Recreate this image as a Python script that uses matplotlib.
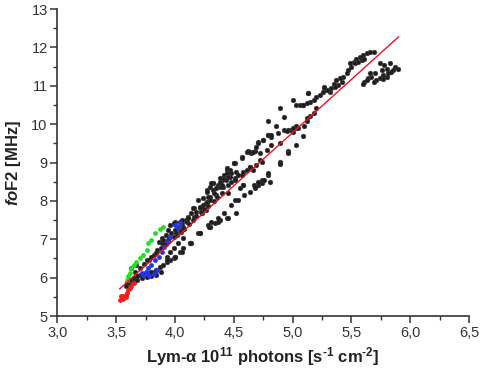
import matplotlib
matplotlib.use("Agg")
import matplotlib.pyplot as plt
from matplotlib.ticker import FixedLocator, FixedFormatter, MultipleLocator

plt.rcParams['font.family'] = ['Liberation Sans', 'DejaVu Sans']
plt.rcParams['mathtext.fontset'] = 'custom'
plt.rcParams['mathtext.rm'] = 'Liberation Sans:bold'
plt.rcParams['mathtext.it'] = 'Liberation Sans:italic:bold'
plt.rcParams['mathtext.default'] = 'rm'

# ---- data ----
black_x = [5.63, 5.66, 5.69, 5.60, 5.57, 5.54, 5.52, 5.53, 5.56, 5.59, 5.61, 5.49, 5.50, 5.47, 5.46,
           5.43, 5.40, 5.37, 5.35, 5.42, 5.39, 5.36, 5.33, 5.32, 5.29, 5.27, 5.26, 5.23, 5.20, 5.18,
           5.15, 5.12, 5.09, 5.13, 5.27,
           5.74, 5.78, 5.83, 5.87, 5.90, 5.85, 5.81, 5.77, 5.74, 5.71, 5.69, 5.67, 5.66, 5.64, 5.61,
           5.60, 5.63, 5.70, 5.76, 5.80, 5.84, 5.80, 5.77,
           5.20, 5.18, 5.15,
           5.13, 5.00, 5.03, 5.06, 5.09, 4.89, 4.93, 4.79, 4.86, 4.93, 4.99, 5.03, 5.12, 5.10, 5.09,
           4.79, 4.82, 4.75, 4.71, 4.69, 4.68, 4.65, 4.62, 4.88, 4.89, 4.82, 4.78, 4.72, 4.96, 4.89,
           4.57, 4.50, 4.64, 4.66, 4.61, 4.57, 4.51, 4.47, 4.44, 4.42, 4.40, 4.37, 4.32, 4.30, 4.27,
           4.79, 4.74, 4.71, 4.67, 4.58, 4.55, 4.48, 4.52,
           5.03, 5.00, 4.96, 5.03, 4.96, 4.89, 4.79, 4.74, 4.71, 4.68, 4.64, 4.59, 4.54, 4.48, 4.44,
           4.38, 4.34, 4.30, 4.58, 4.51, 4.57, 4.61, 4.64, 4.66, 4.71, 4.75, 4.79, 4.82, 4.72, 4.74,
           4.69, 4.64, 4.58, 4.54, 4.51, 4.47, 4.44, 4.41, 4.38, 4.32, 4.32, 4.27, 4.24, 4.30, 4.35,
           4.38, 4.41, 4.45, 4.21, 4.27,
           4.50, 4.44, 4.48, 4.45, 4.43, 4.38, 4.31, 4.40, 4.35, 4.33, 4.28, 4.30, 4.27, 4.26, 4.24,
           4.21, 4.20, 4.16, 4.18, 4.14, 4.11, 4.09, 4.06, 4.03, 4.00, 3.97, 4.10, 4.07, 4.45, 4.51,
           4.42, 4.37, 4.31, 4.28, 4.20, 4.13, 4.06, 4.00, 3.96, 3.94, 3.92, 3.89, 3.86, 3.90, 3.94,
           3.99, 4.01, 4.04, 4.16, 4.23, 4.26, 4.07, 4.03, 3.99, 3.96, 3.93, 3.99,
           3.79, 3.82, 3.84, 3.87, 3.90, 3.93, 3.96, 4.00, 4.04, 4.07, 4.13, 4.21, 4.30,
           3.93, 4.00, 4.06, 4.14, 4.21, 4.29, 4.37, 4.45, 4.52,
           3.63, 3.67, 3.76, 3.82, 3.85, 3.89, 3.90, 3.95, 3.99, 4.04, 4.11, 4.15,
           3.59, 3.62, 3.70, 3.78, 3.80, 3.83, 3.58, 3.65, 3.73, 3.68,
           4.81, 4.68, 4.71, 4.76, 4.96, 4.89, 4.95, 5.00, 5.05, 5.12,
           4.02, 4.05, 4.08, 4.12, 4.15, 4.18, 4.22, 4.25, 4.28, 4.33, 4.36, 4.40,
           3.62, 3.65, 3.68, 3.72, 3.76, 3.80, 3.84, 3.88, 3.66, 3.70, 3.74, 3.78, 3.80, 3.84, 3.88, 3.92]
black_y = [11.85, 11.87, 11.87, 11.80, 11.76, 11.71, 11.63, 11.59, 11.63, 11.67, 11.71, 11.59, 11.50, 11.41, 11.33,
           11.24, 11.20, 11.15, 11.06, 11.11, 11.02, 10.98, 10.93, 10.85, 10.89, 10.93, 10.85, 10.76, 10.72, 10.63,
           10.59, 10.54, 10.50, 10.80, 10.98,
           11.59, 11.54, 11.59, 11.50, 11.43, 11.41, 11.33, 11.28, 11.20, 11.15, 11.11, 11.24, 11.33, 11.20, 11.11,
           11.06, 11.15, 11.33, 11.41, 11.43, 11.37, 11.24, 11.17,
           10.41, 10.28, 10.20,
           10.80, 10.63, 10.50, 10.50, 10.50, 10.41, 10.18, 10.07, 9.95, 9.85, 9.85, 9.89, 10.07, 9.94, 9.68,
           9.72, 9.67, 9.59, 9.54, 9.41, 9.29, 9.24, 9.29, 9.76, 9.50, 9.46, 9.33, 9.07, 9.29, 9.00,
           9.11, 8.98, 8.89, 8.81, 8.81, 8.68, 8.59, 8.63, 8.81, 8.68, 8.55, 8.42, 8.46, 8.37, 8.29,
           8.68, 8.46, 8.42, 8.42, 8.42, 8.33, 8.50, 8.76,
           9.94, 9.80, 9.85, 9.46, 9.28, 9.02, 8.72, 8.55, 8.42, 8.33, 8.24, 8.16, 8.03, 7.89, 7.55,
           7.50, 7.42, 7.33, 8.42, 8.98, 9.15, 9.28, 9.28, 9.28, 9.50, 9.59, 9.72, 9.72, 9.24, 9.02,
           8.94, 8.89, 8.76, 8.68, 8.55, 8.81, 8.72, 8.59, 8.50, 8.46, 8.29, 8.24, 8.07, 8.11, 8.16,
           8.37, 8.37, 8.42, 7.81, 7.98,
           8.98, 8.85, 8.72, 8.63, 8.55, 8.59, 8.46, 8.42, 8.33, 8.20, 8.11, 8.03, 7.98, 7.94, 7.90,
           7.85, 8.02, 7.81, 7.72, 7.68, 7.59, 7.51, 7.42, 7.33, 7.24, 7.16, 7.46, 7.33, 8.20, 8.03,
           7.68, 7.55, 7.46, 7.37, 7.16, 6.90, 7.51, 7.46, 7.37, 7.24, 7.11, 7.03, 6.94, 6.90, 6.98,
           7.07, 7.16, 7.24, 7.59, 7.68, 7.77, 7.03, 6.90, 6.77, 6.68, 6.55, 6.51,
           6.12, 6.16, 6.20, 6.27, 6.33, 6.42, 6.46, 6.55, 6.68, 6.77, 6.90, 7.16, 7.33,
           6.46, 6.55, 6.66, 6.90, 7.16, 7.31, 7.46, 7.55, 7.68,
           6.25, 6.33, 6.46, 6.59, 6.72, 6.90, 6.98, 7.03, 7.42, 7.46, 7.55, 7.81,
           5.85, 5.94, 6.07, 6.07, 6.16, 6.12, 5.77, 6.00, 6.10, 6.05,
           8.50, 8.37, 8.50, 8.55, 9.26, 8.97, 9.83, 9.89, 9.89, 10.15,
           7.10, 7.18, 7.28, 7.40, 7.50, 7.60, 7.70, 7.80, 7.88, 8.00, 8.10, 8.20,
           5.80, 5.88, 5.95, 6.00, 6.02, 6.05, 6.08, 6.15, 6.15, 6.25, 6.35, 6.45, 6.55, 6.65, 6.78, 6.88]

green_x = [3.59, 3.60, 3.62, 3.63, 3.65, 3.67, 3.70, 3.73, 3.76, 3.77, 3.80, 3.83, 3.87, 3.90]
green_y = [5.94, 6.03, 6.12, 6.25, 6.33, 6.42, 6.51, 6.59, 6.72, 6.90, 6.98, 7.16, 7.26, 7.33]

blue_x = [3.72, 3.73, 3.75, 3.76, 3.77, 3.80, 3.83, 3.86, 3.89, 3.91, 3.94, 3.96, 4.00, 4.03, 4.04, 3.78, 3.82, 3.85]
blue_y = [6.12, 6.07, 6.16, 6.12, 6.25, 6.33, 6.46, 6.55, 6.68, 6.81, 6.94, 7.07, 7.37, 7.29, 7.42, 6.03, 6.10, 6.20]

red_x = [3.53, 3.55, 3.56, 3.58, 3.59, 3.60, 3.62, 3.63, 3.56, 3.54, 3.58, 3.65]
red_y = [5.42, 5.47, 5.51, 5.55, 5.60, 5.67, 5.73, 5.79, 5.44, 5.51, 5.49, 5.86]

fit_x = [3.53, 5.90]
fit_slope = 2.77
fit_intercept = -4.07

xticks = [3.0, 3.5, 4.0, 4.5, 5.0, 5.5, 6.0, 6.5]
xtick_labels = ["3,0", "3,5", "4,0", "4,5", "5,0", "5,5", "6,0", "6,5"]
yticks = [5, 6, 7, 8, 9, 10, 11, 12, 13]
ytick_labels = ["5", "6", "7", "8", "9", "10", "11", "12", "13"]

# ---- figure ----
fig = plt.figure(figsize=(4.82, 3.78), dpi=100)
ax = fig.add_axes([0.119, 0.164, 0.854, 0.812])

ms = 12
ax.scatter(black_x, black_y, s=ms, color='#1e1e1e', edgecolors='#444444', linewidths=0.3, zorder=2)
ax.scatter(green_x, green_y, s=ms, color='#22dd22', linewidths=0, zorder=3)
ax.scatter(blue_x, blue_y, s=ms, color='#2233ee', linewidths=0, zorder=3)
ax.scatter(red_x, red_y, s=ms, color='#ff1a1a', linewidths=0, zorder=3)
fit_y = [fit_slope * v + fit_intercept for v in fit_x]
ax.plot(fit_x, fit_y, color='#ee1122', lw=1.0, zorder=4)

ax.set_xlim(3.0, 6.5)
ax.set_ylim(5, 13)
ax.xaxis.set_major_locator(FixedLocator(xticks))
ax.xaxis.set_major_formatter(FixedFormatter(xtick_labels))
ax.yaxis.set_major_locator(FixedLocator(yticks))
ax.yaxis.set_major_formatter(FixedFormatter(ytick_labels))
ax.xaxis.set_minor_locator(MultipleLocator(0.25))
ax.yaxis.set_minor_locator(MultipleLocator(0.5))

for s in ['top', 'right']:
    ax.spines[s].set_visible(False)
for s in ['left', 'bottom']:
    ax.spines[s].set_linewidth(1.2)
    ax.spines[s].set_color('#333333')
ax.tick_params(which='major', direction='out', length=5, width=1.1, color='#333333',
               labelsize=10.5, labelcolor='#333333', pad=2)
ax.tick_params(which='minor', direction='out', length=3, width=1.0, color='#333333')

ax.set_xlabel(r'Lym-$\alpha$ 10$^{11}$ photons [s$^{\text{-}1}$ cm$^{\text{-}2}$]', fontsize=12,
              fontweight='bold', color='#222222', labelpad=4)
ax.set_ylabel(r'$\mathit{fo}$F2 [MHz]', fontsize=12, fontweight='bold', color='#222222', labelpad=6)

fig.savefig('out.png', dpi=100)
